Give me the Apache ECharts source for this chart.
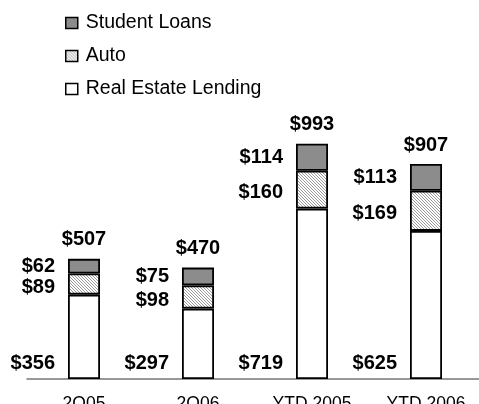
<!DOCTYPE html>
<html><head><meta charset="utf-8">
<script src="https://cdn.jsdelivr.net/npm/echarts@6/dist/echarts.min.js"></script>
<style>html,body{margin:0;padding:0;background:#fff}#c{width:479px;height:404px}</style>
</head><body><div id="c"></div>
<script>
const categories = ['2Q05', '2Q06', 'YTD 2005', 'YTD 2006'];
const realEstate = [356, 297, 719, 625];
const auto = [89, 98, 160, 169];
const studentLoans = [62, 75, 114, 113];
const seriesNames = ['Real Estate Lending', 'Auto', 'Student Loans'];
const totals = categories.map((c, i) => realEstate[i] + auto[i] + studentLoans[i]);

const pc = document.createElement('canvas');
pc.width = 3; pc.height = 3;
const pctx = pc.getContext('2d');
pctx.fillStyle = '#ffffff'; pctx.fillRect(0, 0, 3, 3);
pctx.fillStyle = '#9a9a9a';
for (let y = 0; y < 3; y++) for (let x = 0; x < 3; x++) {
  const d = ((x - y) % 3 + 3) % 3;
  if (d === 0) pctx.fillRect(x, y, 1, 1);
}
const hatch = { image: pc, repeat: 'repeat' };

const FONT = 'Liberation Sans, Arial, sans-serif';
const lblSide = {
  show: true, position: 'left', distance: 13,
  fontFamily: FONT, fontWeight: 'bold', fontSize: 20, color: '#000',
  formatter: p => '$' + p.value
};
const border = { borderColor: '#000', borderWidth: 1.8 };

const chart = echarts.init(document.getElementById('c'), null, { renderer: 'canvas' });
chart.setOption({
  animation: false,
  backgroundColor: '#fff',
  grid: { left: 27, right: -4, top: 142, bottom: 25, outerBoundsMode: 'none', containLabel: false },
  legend: {
    data: ['Student Loans', 'Auto', 'Real Estate Lending'],
    orient: 'vertical', left: 65, top: 13, padding: 0,
    itemWidth: 12, itemHeight: 11, itemGap: 13,
    icon: 'rect',
    itemStyle: { borderColor: '#000', borderWidth: 1.5 },
    textStyle: { fontFamily: FONT, fontSize: 19.5, color: '#000', padding: [0, 0, 0, 3] }
  },
  xAxis: {
    type: 'category', data: categories,
    axisLine: { lineStyle: { color: '#777', width: 1.5 } },
    axisTick: { show: false },
    axisLabel: { fontFamily: FONT, fontSize: 17.5, color: '#000', margin: 16 }
  },
  yAxis: { type: 'value', min: 0, max: 1000, show: false, splitLine: { show: false } },
  series: [
    {
      name: seriesNames[0], type: 'bar', stack: 's', barWidth: 32, data: realEstate,
      itemStyle: Object.assign({ color: '#fff' }, border),
      label: Object.assign({}, lblSide, { position: [-13, '100%'], align: 'right', verticalAlign: 'bottom', offset: [0, -6] })
    },
    {
      name: seriesNames[1], type: 'bar', stack: 's', barWidth: 32, data: auto,
      itemStyle: Object.assign({ color: hatch }, border),
      label: Object.assign({}, lblSide, { offset: [0, 3] })
    },
    {
      name: seriesNames[2], type: 'bar', stack: 's', barWidth: 32, data: studentLoans,
      itemStyle: Object.assign({ color: '#8c8c8c' }, border),
      label: lblSide
    },
    {
      name: 'Total', type: 'bar', stack: 's', barWidth: 32, data: totals.map(() => 0),
      itemStyle: { color: 'transparent' },
      label: {
        show: true, position: 'top', distance: 9,
        fontFamily: FONT, fontWeight: 'bold', fontSize: 20, color: '#000',
        formatter: p => '$' + totals[p.dataIndex]
      }
    }
  ]
});
</script></body></html>
